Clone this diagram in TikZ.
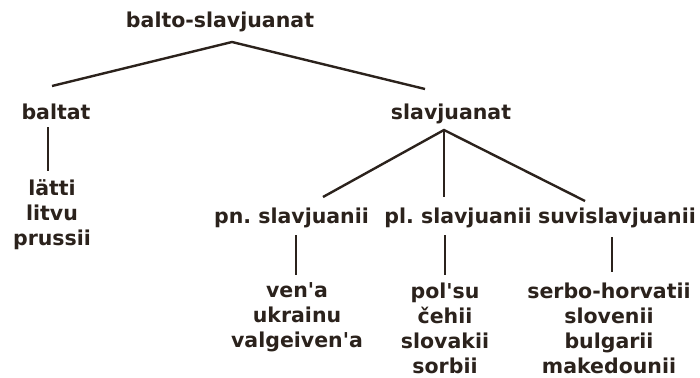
\documentclass[tikz,border=0pt]{standalone}
\usepackage{fontspec}
\setmainfont{DejaVu Sans}[Ligatures=TeXOff]
\definecolor{treeink}{RGB}{43,34,28}
\tikzset{
  lang/.style={font=\bfseries\fontsize{20.5}{25}\selectfont\frenchspacing,text=treeink,
    inner sep=0pt,align=center,anchor=base},
  langlist/.style={lang,anchor=north},
  branch/.style={draw=treeink,line width=2.4pt}
}
\begin{document}
\begin{tikzpicture}[x=1pt,y=-1pt]
  \useasboundingbox (0,0) rectangle (700,377);
  \node[lang] (bs) at (220,28) {balto-slavjuanat};
  \node[lang] (baltat) at (56,119) {baltat};
  \node[lang] (slav) at (451,119) {slavjuanat};
  \node[langlist] (baltlist) at (52,179.5) {lätti\\litvu\\prussii};
  \node[lang] (pn) at (291.5,223) {pn. slavjuanii};
  \node[lang] (pl) at (458,223) {pl. slavjuanii};
  \node[lang] (suvi) at (617,223) {suvislavjuanii};
  \node[langlist] (pnlist) at (297,282.5) {ven'a\\ukrainu\\valgeiven'a};
  \node[langlist] (pllist) at (445,282.5) {pol'su\\čehii\\slovakii\\sorbii};
  \node[langlist] (suvilist) at (609,282.5) {serbo-horvatii\\slovenii\\bulgarii\\makedounii};
  \draw[branch] ([xshift=-4pt,yshift=33pt]baltat.base)
    -- ([xshift=12pt,yshift=-14pt]bs.base)
    -- ([xshift=-26pt,yshift=30pt]slav.base);
  \draw[branch] ([xshift=-8pt,yshift=-8pt]baltat.base)
    -- ([xshift=-4pt,yshift=8.5pt]baltlist.north);
  \draw[branch] ([xshift=31.5pt,yshift=26pt]pn.base)
    -- ([xshift=-7pt,yshift=-11pt]slav.base)
    -- ([xshift=-32pt,yshift=22pt]suvi.base);
  \draw[branch] ([xshift=-7pt,yshift=-11pt]slav.base)
    -- ([xshift=-14pt,yshift=26pt]pl.base);
  \draw[branch] ([xshift=4.5pt,yshift=-12pt]pn.base)
    -- ([xshift=-1pt,yshift=7.5pt]pnlist.north);
  \draw[branch] ([xshift=-13pt,yshift=-12pt]pl.base)
    -- ([yshift=7.5pt]pllist.north);
  \draw[branch] ([xshift=-5pt,yshift=-14pt]suvi.base)
    -- ([xshift=3pt,yshift=10.5pt]suvilist.north);
\end{tikzpicture}
\end{document}
